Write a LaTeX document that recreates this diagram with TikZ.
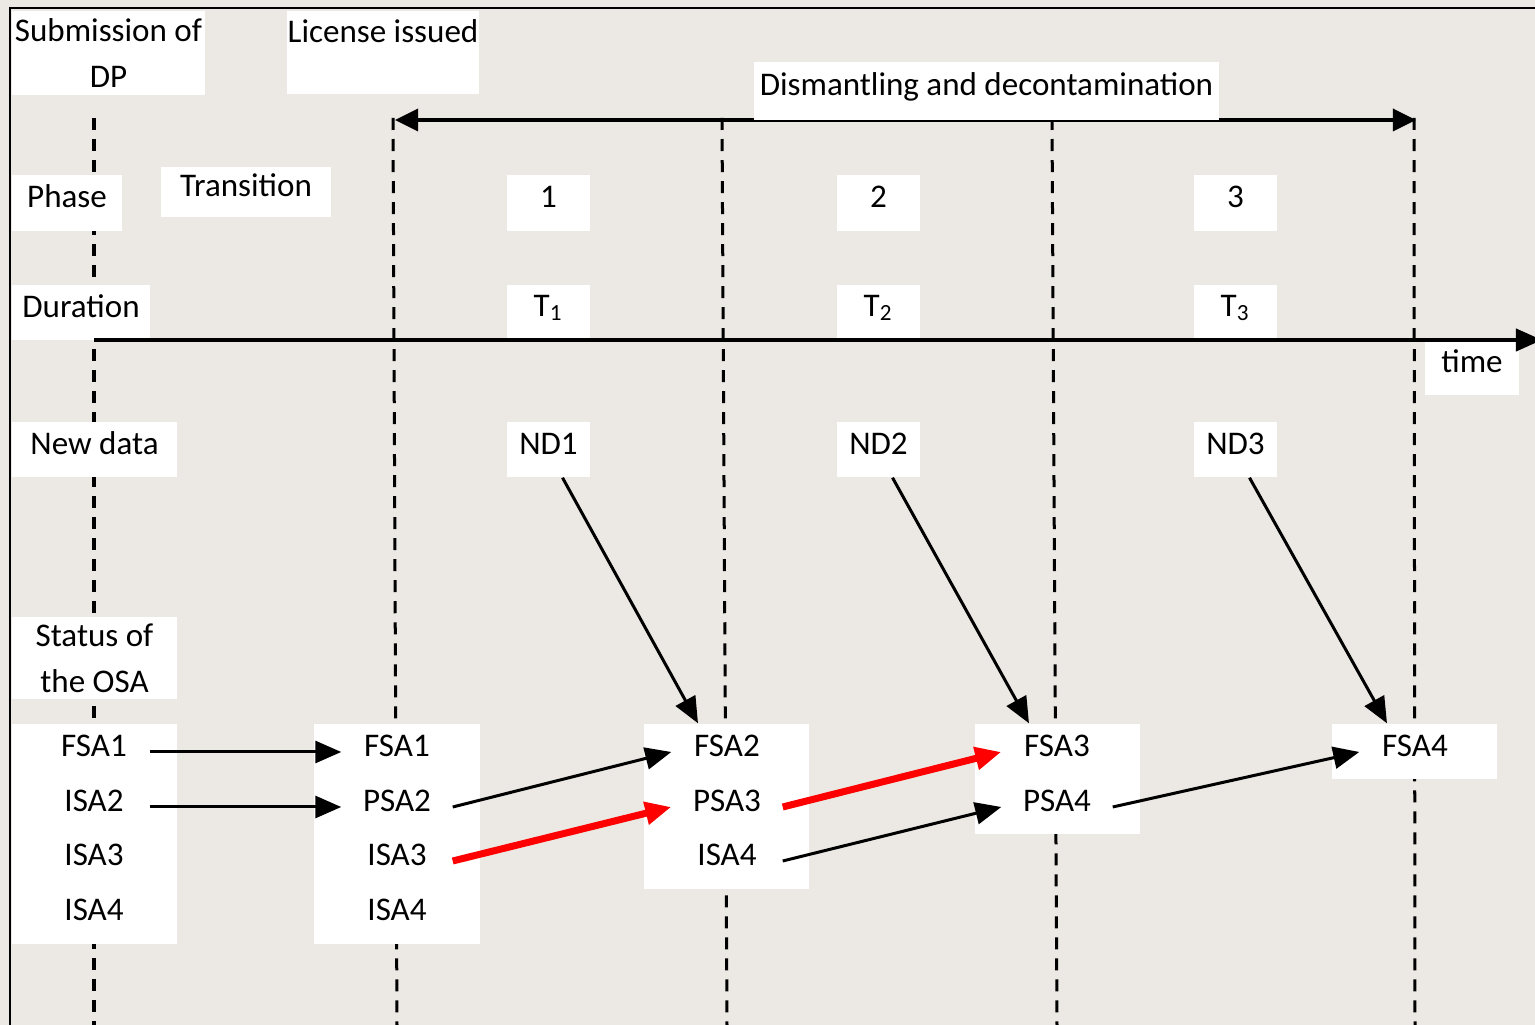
\documentclass[tikz,border=0pt]{standalone}
\usepackage{fontspec}
\setmainfont{Carlito}
\usetikzlibrary{arrows.meta,positioning}
\definecolor{paper}{RGB}{236,233,228}
\definecolor{hot}{RGB}{255,0,0}

\begin{document}
\begin{tikzpicture}[x=0.01cm, y=-0.01cm,
  every node/.style={font=\fontsize{9.4}{13}\selectfont},
  box/.style={fill=white, inner sep=0pt, align=center},
  tag/.style={box, text height=0.22cm, text depth=0.12cm},
  row/.style={inner sep=0pt, minimum width=1.1cm, text height=0.2cm, text depth=0.1cm},
  tip/.style={-{Triangle[length=0.26cm,width=0.22cm]}},
  vline/.style={dash pattern=on 0.12cm off 0.09cm, line width=0.03cm}]
  \fill[paper] (0,0) rectangle (1535,1025);
  \useasboundingbox (0,0) rectangle (1535,1025);
  \draw[line width=0.02cm] (10,1030) -- (10,8) -- (1540,8);
  % milestones
  \coordinate (v0t) at (94,118);   \coordinate (v0b) at (94,1025);
  \coordinate (v1t) at (393,118);  \coordinate (v1b) at (397,1025);
  \coordinate (v2t) at (722,118);  \coordinate (v2b) at (727,1025);
  \coordinate (v3t) at (1052,118); \coordinate (v3b) at (1057,1025);
  \coordinate (v4t) at (1414,118); \coordinate (v4b) at (1415,1025);
  \draw[vline] (v0t) -- (v0b);
  \draw[vline] (v1t) -- (v1b);
  \draw[vline] (v2t) -- (v2b);
  \draw[vline] (v3t) -- (v3b);
  \draw[vline] (v4t) -- (v4b);
  \coordinate (d0) at (395,120);
  \coordinate (d1) at (1416,120);
  \draw[line width=0.035cm, {Triangle[length=0.23cm,width=0.22cm]}-{Triangle[length=0.23cm,width=0.22cm]}] (d0) -- (d1);
  % labels
  \node[box, minimum width=1.93cm, minimum height=0.83cm] (sub) at (108.5,53) {Submission of\\DP};
  \node[box, minimum width=1.92cm, text height=0.32cm, text depth=0.51cm, anchor=north] (lic) at (383,10) {License issued};
  \node[tag, minimum width=4.65cm, minimum height=0.58cm] (dis) at (986.5,91) {Dismantling and decontamination};
  \node[tag, minimum width=1.1cm, minimum height=0.56cm] (phase) at (67,203) {Phase};
  \node[tag, minimum width=1.7cm, minimum height=0.5cm] (trans) at (246,192) {Transition};
  \node[tag, minimum width=0.83cm, minimum height=0.56cm] (p1) at (548.5,203) {1};
  \node[tag, minimum width=0.83cm, minimum height=0.56cm] (p2) at (878.5,203) {2};
  \node[tag, minimum width=0.83cm, minimum height=0.56cm] (p3) at (1235.5,203) {3};
  \node[tag, minimum width=1.38cm, minimum height=0.55cm] (dur) at (81,312.5) {Duration};
  \node[tag, minimum width=0.83cm, minimum height=0.53cm] (T1) at (548.5,311.5) {T\textsubscript{1}};
  \node[tag, minimum width=0.83cm, minimum height=0.53cm] (T2) at (878.5,311.5) {T\textsubscript{2}};
  \node[tag, minimum width=0.83cm, minimum height=0.53cm] (T3) at (1235.5,311.5) {T\textsubscript{3}};
  \node[tag, minimum width=0.94cm, minimum height=0.55cm] (time) at (1472,367.5) {time};
  \node[tag, minimum width=1.65cm, minimum height=0.55cm] (new) at (94.5,449.5) {New data};
  \node[tag, minimum width=0.83cm, minimum height=0.55cm] (nd1) at (548.5,449.5) {ND1};
  \node[tag, minimum width=0.83cm, minimum height=0.55cm] (nd2) at (878.5,449.5) {ND2};
  \node[tag, minimum width=0.83cm, minimum height=0.55cm] (nd3) at (1235.5,449.5) {ND3};
  \node[box, minimum width=1.65cm, minimum height=0.82cm] (osa) at (94.5,658) {Status of\\the OSA};
  % time axis
  \coordinate (t0) at (94,340);
  \coordinate (t1) at (1542,340);
  \draw[line width=0.04cm, tip] (t0) -- (t1);
  % status columns
  \node[box, minimum width=1.65cm, minimum height=2.2cm] (c0) at (94.5,834) {};
  \node[box, minimum width=1.66cm, minimum height=2.2cm] (c1) at (397,834) {};
  \node[box, minimum width=1.65cm, minimum height=1.65cm] (c2) at (726.5,806.5) {};
  \node[box, minimum width=1.65cm, minimum height=1.1cm] (c3) at (1057.5,779) {};
  \node[box, minimum width=1.65cm, minimum height=0.55cm] (c4) at (1414.5,751.5) {};
  \node[row] (a1) at (94,752) {FSA1};
  \node[row] (a2) at (94,807) {ISA2};
  \node[row] (a3) at (94,861) {ISA3};
  \node[row] (a4) at (94,916) {ISA4};
  \node[row] (b1) at (397,752) {FSA1};
  \node[row] (b2) at (397,807) {PSA2};
  \node[row] (b3) at (397,861) {ISA3};
  \node[row] (b4) at (397,916) {ISA4};
  \node[row] (e1) at (727,752) {FSA2};
  \node[row] (e2) at (727,807) {PSA3};
  \node[row] (e3) at (727,861) {ISA4};
  \node[row] (f1) at (1057,752) {FSA3};
  \node[row] (f2) at (1057,807) {PSA4};
  \node[row] (g1) at (1415,752) {FSA4};
  \draw[tip, line width=0.03cm] (a1.east) -- (b1.west);
  \draw[tip, line width=0.03cm] (a2.east) -- (b2.west);
  \draw[tip, line width=0.03cm] (b2.east) -- (e1.west);
  \draw[tip, line width=0.07cm, hot] (b3.east) -- (e2.west);
  \draw[tip, line width=0.07cm, hot] (e2.east) -- (f1.west);
  \draw[tip, line width=0.03cm] (e3.east) -- (f2.west);
  \draw[tip, line width=0.03cm] (f2.east) -- (g1.west);
  \draw[tip, line width=0.03cm] ([xshift=0.14cm]nd1.south) -- ([xshift=-0.285cm]c2.north);
  \draw[tip, line width=0.03cm] ([xshift=0.14cm]nd2.south) -- ([xshift=-0.285cm]c3.north);
  \draw[tip, line width=0.03cm] ([xshift=0.14cm]nd3.south) -- ([xshift=-0.275cm]c4.north);
\end{tikzpicture}
\end{document}
